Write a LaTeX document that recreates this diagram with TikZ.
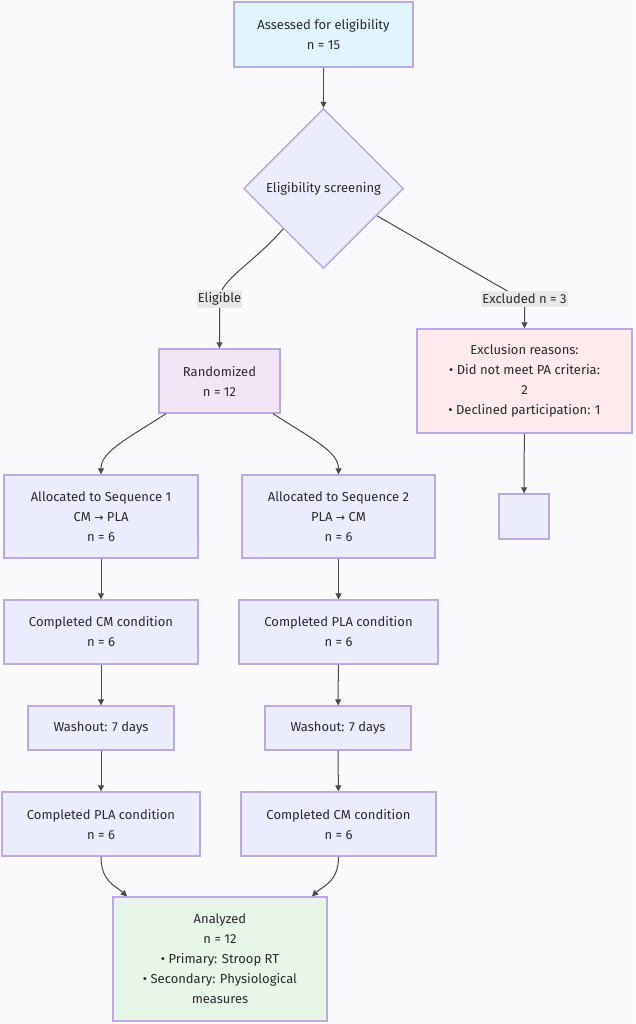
\documentclass[tikz,border=0pt]{standalone}
\usepackage{fontspec}
\setmainfont{Fira Sans}
\newfontfamily\symf{DejaVu Sans}
\usetikzlibrary{shapes.geometric,arrows.meta}
\definecolor{bg}{HTML}{FAFAFC}
\definecolor{bd}{HTML}{BBA9E6}
\definecolor{txt}{HTML}{2A2A2A}
\definecolor{ln}{HTML}{4A4A4A}
\definecolor{fdef}{HTML}{ECECFF}
\definecolor{fblue}{HTML}{E1F5FE}
\definecolor{fpurp}{HTML}{F3E5F5}
\definecolor{fred}{HTML}{FFEBEE}
\definecolor{fgreen}{HTML}{E8F5E9}
\definecolor{lbl}{HTML}{E8E8E8}
\tikzset{
  box/.style={draw=bd, line width=1.4pt, fill=fdef, text=txt, align=center, inner sep=0pt,
    font=\fontsize{13}{20}\selectfont},
  lab/.style={fill=lbl, text=txt, inner xsep=1pt, inner ysep=3pt, font=\fontsize{13}{15}\selectfont},
  arr/.style={draw=ln, line width=1pt, -{Triangle[length=6pt,width=6pt]}}
}
\newcommand{\ar}{{\symf\fontsize{11}{12}\selectfont →}}
\begin{document}
\begin{tikzpicture}[x=1pt,y=-1pt]
\fill[bg] (0,0) rectangle (635,1024);
\useasboundingbox (0,0) rectangle (635,1024);

\node[box, fill=fblue, minimum width=179, minimum height=65] (A) at (323.5,34.5) {Assessed for eligibility\\n = 15};
\node[box, shape=diamond, minimum width=160, minimum height=160, aspect=1] (D) at (323.5,188.5) {Eligibility screening};
\node[box, fill=fpurp, minimum width=121, minimum height=64] (R) at (219.5,381) {Randomized\\n = 12};
\node[box, fill=fred, minimum width=215, minimum height=104] (X) at (524.5,381) {Exclusion reasons:\\• Did not meet PA criteria:\\2\\• Declined participation: 1};
\node[box, minimum width=50, minimum height=45] (E) at (524,516.5) {};
\node[box, minimum width=194, minimum height=83] (S1) at (101,516.5) {Allocated to Sequence 1\\CM \ar{} PLA\\n = 6};
\node[box, minimum width=193, minimum height=83] (S2) at (338.5,516.5) {Allocated to Sequence 2\\PLA \ar{} CM\\n = 6};
\node[box, minimum width=194, minimum height=64] (C1) at (101,632) {Completed CM condition\\n = 6};
\node[box, minimum width=199, minimum height=64] (C2) at (338.5,632) {Completed PLA condition\\n = 6};
\node[box, minimum width=146, minimum height=44] (W1) at (101,728) {Washout: 7 days};
\node[box, minimum width=146, minimum height=44] (W2) at (338,728) {Washout: 7 days};
\node[box, minimum width=198, minimum height=64] (P1) at (101,824) {Completed PLA condition\\n = 6};
\node[box, minimum width=195, minimum height=64] (P2) at (338.5,824) {Completed CM condition\\n = 6};
\node[box, fill=fgreen, minimum width=214, minimum height=124] (F) at (220,959) {Analyzed\\n = 12\\• Primary: Stroop RT\\• Secondary: Physiological\\measures};

\coordinate (e1) at (219.5,299);
\coordinate (e2) at (524.5,299);

\draw[arr] (A) -- (D);
\draw[arr] (D.south west) .. controls (255,262) and (219.5,280) .. (e1) -- (R.north);
\draw[arr] (D.-27) -- (495,284) .. controls (515,295) and (524.5,302) .. (e2) -- (X.north);
\draw[arr] (X) -- (E);
\draw[arr] ([xshift=-53.5]R.south) .. controls (125,440) and (101,452) .. (S1.north);
\draw[arr] ([xshift=53.5]R.south) .. controls (314,440) and (338.5,452) .. (S2.north);
\draw[arr] (S1) -- (C1);
\draw[arr] (S2) -- (C2);
\draw[arr] (C1) -- (W1);
\draw[arr] (C2) -- (W2);
\draw[arr] (W1) -- (P1);
\draw[arr] (W2) -- (P2);
\draw[arr] (P1.south) .. controls (101,882) and (116,886) .. ([xshift=-93]F.north);
\draw[arr] (P2.south) .. controls (338.5,882) and (323,886) .. ([xshift=92]F.north);

\node[lab] (L1) at (e1) {Eligible};
\node[lab] (L2) at (e2) {Excluded n = 3};
\end{tikzpicture}
\end{document}
